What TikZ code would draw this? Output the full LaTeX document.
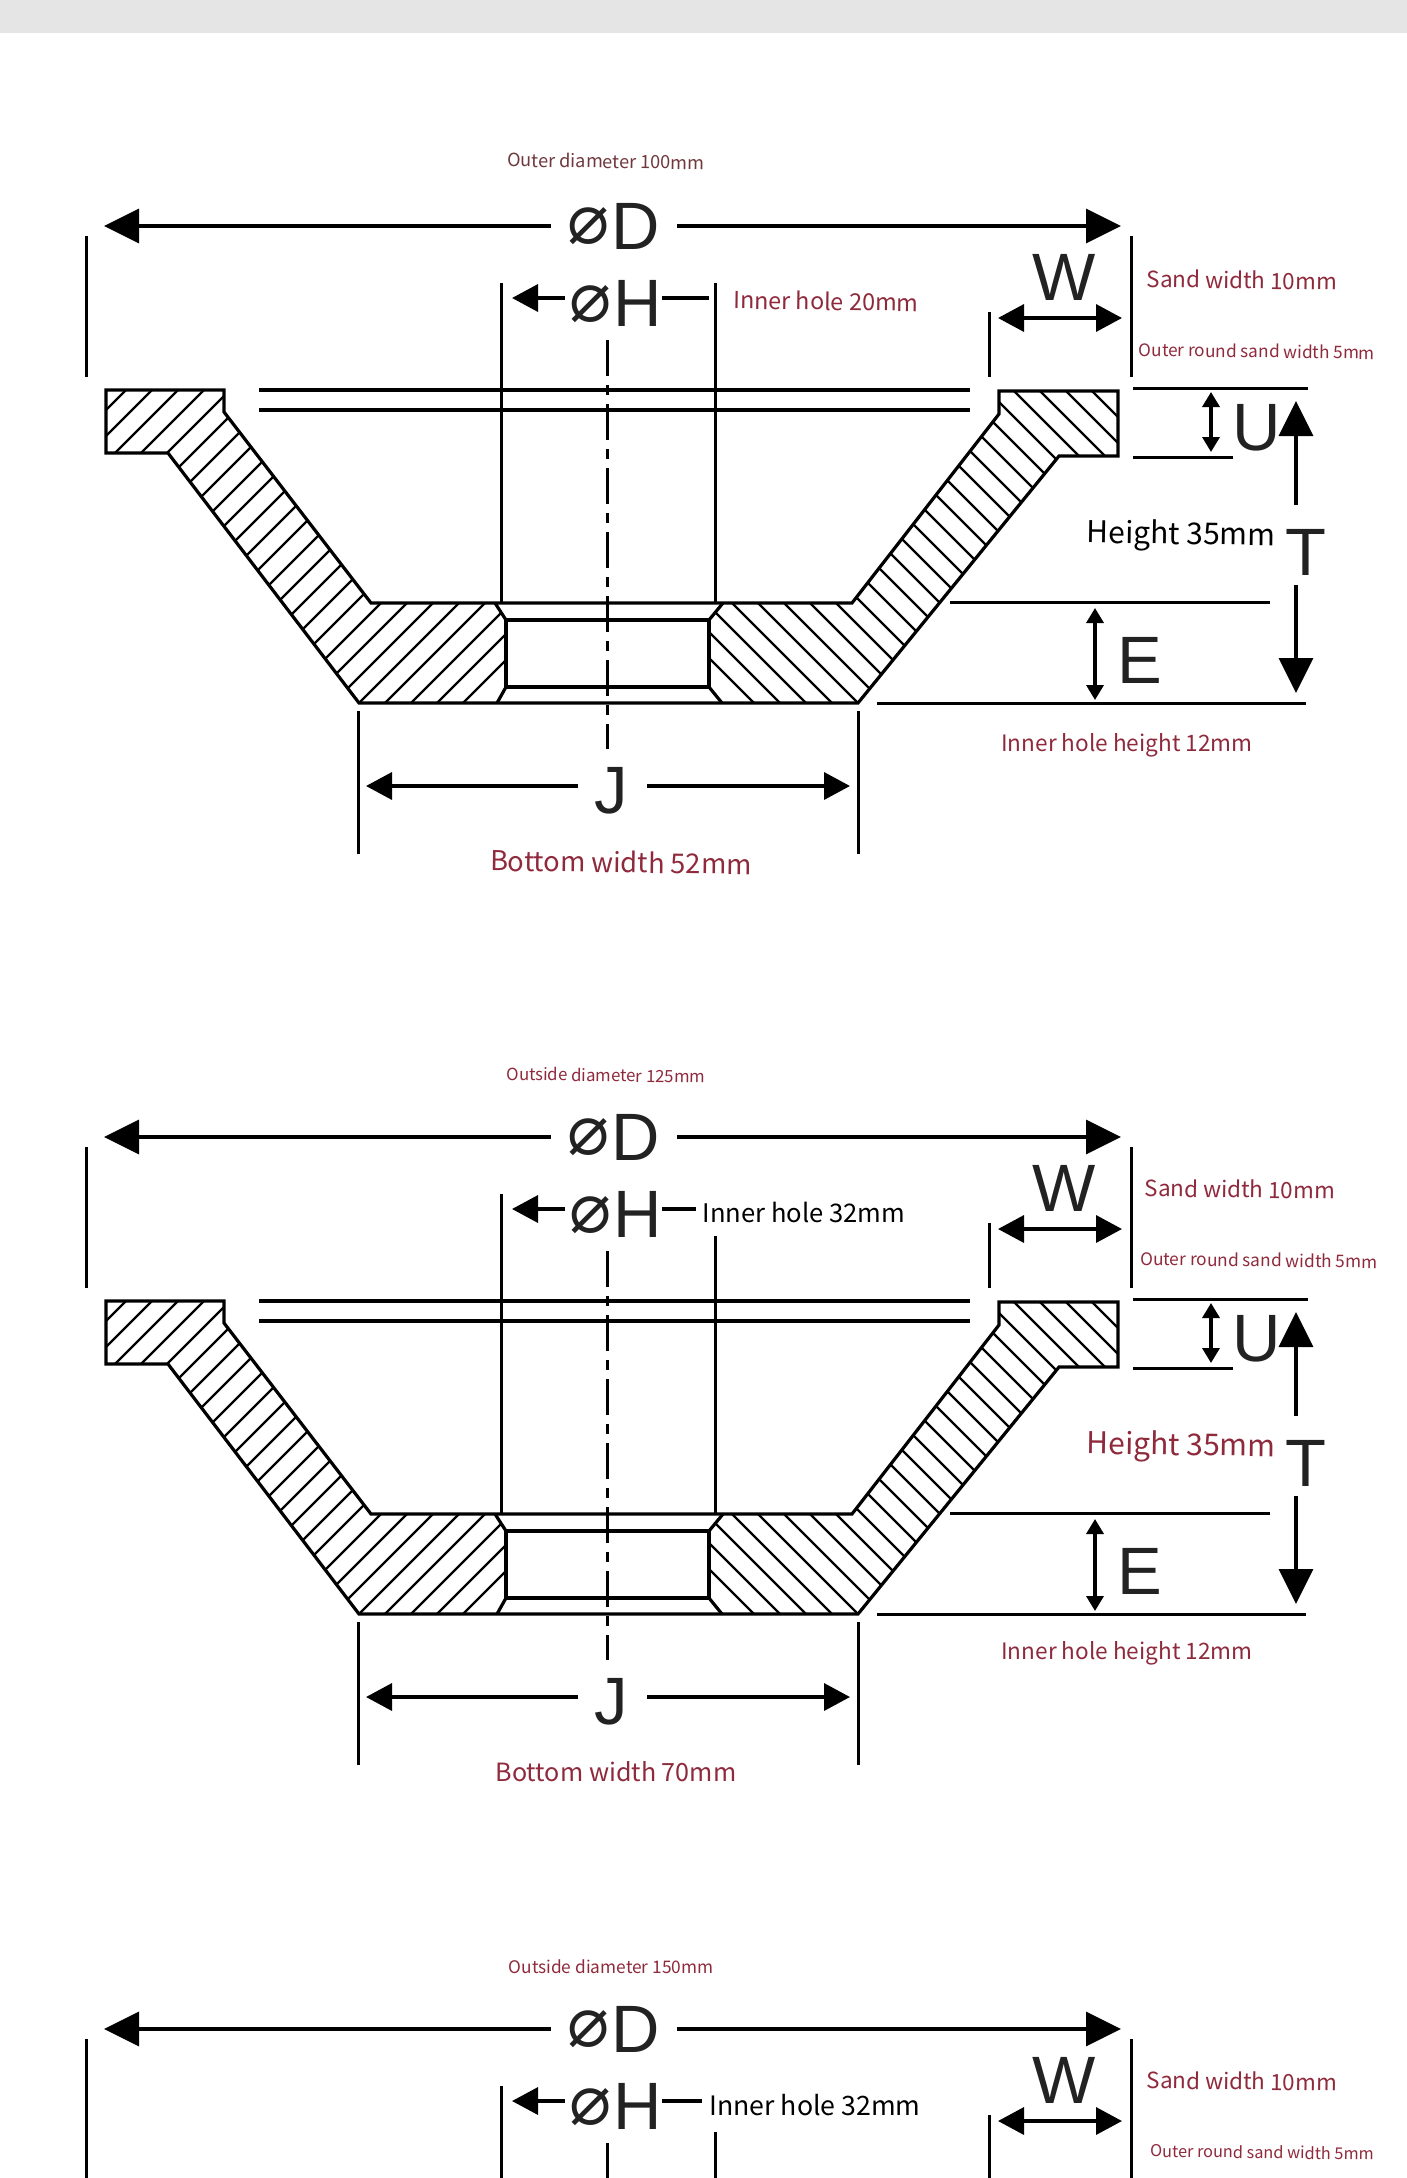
\documentclass[tikz,border=0pt]{standalone}
\usepackage{fontspec}
\usetikzlibrary{arrows.meta}
\setmainfont{Liberation Sans}
\newfontfamily\notefont{Noto Sans CJK SC}
\newfontfamily\symfont{DejaVu Sans}
\definecolor{notered}{HTML}{8E2A3C}
\definecolor{notebrown}{HTML}{70383C}
\definecolor{inkdark}{HTML}{222222}
\tikzset{
  outline/.style={line width=3.2pt,line join=miter},
  extline/.style={line width=3pt},
  hatchline/.style={line width=2.2pt},
  centerline/.style={line width=3pt,dash pattern=on 36pt off 9pt on 10pt off 9pt},
  letter/.style={inner sep=0pt,text=inkdark,font=\fontsize{67}{70}\selectfont},
  phisign/.style={inner sep=0pt,text=inkdark,font=\symfont\fontsize{70}{70}\selectfont},
  bigarrow/.style={line width=3.5pt,-{Triangle[length=35pt,width=34pt]}},
  midarrow/.style={line width=3.5pt,-{Triangle[length=26pt,width=27pt]}},
  bothsmall/.style={line width=3.5pt,{Triangle[length=15pt,width=17pt]}-{Triangle[length=15pt,width=17pt]}},
  bothmid/.style={line width=3.5pt,{Triangle[length=26pt,width=27pt]}-{Triangle[length=26pt,width=27pt]}},
  note/.style={inner sep=0pt,text=notered,rotate=-0.8},
}
\newcommand*{\notesize}[1]{\notefont\fontsize{#1}{#1}\selectfont}
\begin{document}
\begin{tikzpicture}[x=1pt,y=-1pt]
  \useasboundingbox (0,0) rectangle (1407,2178);
  \clip (0,0) rectangle (1407,2178);
  \fill[black!10] (0,0) rectangle (1407,33);

  \foreach \py/\hy/\hx in {0/283/709,911/325/696,1803/329/702}
  {
  \begin{scope}[shift={(0,\py)}]
    % witness lines
    \draw[extline] (86,236) -- (86,377);
    \draw[extline] (1131,236) -- (1131,377);
    \draw[extline] (989,312) -- (989,377);
    \draw[extline] (501,283) -- (501,603);
    \draw[extline] (715,\hy) -- (715,603);
    \draw[centerline] (607,340) -- (607,749);

    % letters
    \node[phisign,minimum width=76pt] (phiD\py) at (589,226) {⌀};
    \node[letter,minimum width=82pt] (letD\py) at (636,226) {D};
    \node[phisign,minimum width=52pt] (phiH\py) at (591,304) {⌀};
    \node[letter,minimum width=40pt] (letH\py) at (638,303) {H};
    \node[letter] (letW\py) at (1064,277) {W};

    % dimension arrows
    \draw[bigarrow] (phiD\py.west) -- (104,226);
    \draw[bigarrow] (letD\py.east) -- (1121,226);
    \draw[midarrow] (phiH\py.west) ++(0,-6) -- (512,298);
    \draw[line width=3.5pt] (letH\py.east) ++(0,-5) -- (\hx,298);
    \draw[bothmid] (998,318) -- (1122,318);

    \ifnum\py<1803
    % hatching left
    \begin{scope}
      \clip (106,390) -- (224,390) -- (224,412) -- (371,603) -- (495,603) -- (506,620)
        -- (506,687) -- (497,703) -- (359,703) -- (168,453) -- (106,453) -- cycle;
      \foreach \c in {-4,...,22}
        \draw[hatchline] ({1062-\c*26-720},720) -- ({1062-\c*26-300},300);
    \end{scope}
    % hatching right
    \begin{scope}
      \clip (999,391) -- (1118,391) -- (1118,456) -- (1059,456) -- (858,703) -- (722,703)
        -- (709,687) -- (709,620) -- (723,603) -- (852,603) -- (999,414) -- cycle;
      \foreach \c in {-4,...,22}
        \draw[hatchline] ({155+\c*26+300},300) -- ({155+\c*26+720},720);
    \end{scope}

    % wheel section
    \draw[outline] (106,390) -- (224,390) -- (224,412) -- (371,603) -- (852,603) -- (999,414)
      -- (999,391) -- (1118,391) -- (1118,456) -- (1059,456) -- (858,703) -- (359,703)
      -- (168,453) -- (106,453) -- cycle;
    \draw[outline] (506,620) rectangle (709,687);
    \draw[outline] (495,603) -- (506,620) (506,687) -- (497,703);
    \draw[outline] (723,603) -- (709,620) (709,687) -- (722,703);
    \draw[outline] (259,390) -- (970,390) (259,410) -- (970,410);

    % lower witness lines
    \draw[extline] (1133,388) -- (1308,388);
    \draw[extline] (1133,457) -- (1233,457);
    \draw[extline] (950,602) -- (1270,602);
    \draw[extline] (877,703) -- (1306,703);
    \draw[extline] (358,711) -- (358,854);
    \draw[extline] (858,711) -- (858,854);

    % lower letters
    \node[letter] (letU\py) at (1257,428) {U};
    \node[letter] (letT\py) at (1306,552) {T};
    \node[letter] (letE\py) at (1140,660) {E};
    \node[letter] (letJ\py) at (611,791) {J};

    % lower arrows
    \draw[bothsmall] (1211,392) -- (1211,452);
    \draw[bothsmall] (1095,608) -- (1095,700);
    \draw[bigarrow] (1296,505) -- (1296,401);
    \draw[bigarrow] (1296,585) -- (1296,693);
    \draw[midarrow] (578,786) -- (366,786);
    \draw[midarrow] (647,786) -- (850,786);
    \fi
  \end{scope}
  }

  % first wheel
  \node[note,text=notebrown,font=\notesize{18.2}] (outerA) at (606,161) {Outer diameter 100mm};
  \node[note,font=\notesize{23.4}] (holeA) at (826,301) {Inner hole 20mm};
  \node[note,font=\notesize{22.4}] (sandA) at (1242,280) {Sand width 10mm};
  \node[note,font=\notesize{17.2}] (roundA) at (1257,351) {Outer round sand width 5mm};
  \node[note,text=black,font=\notesize{30}] (heightA) at (1181,536) {Height 35mm};
  \node[note,rotate=0.8,font=\notesize{22.6}] (lowA) at (1127,745) {Inner hole height 12mm};
  \node[note,font=\notesize{27.3}] (bottomA) at (621,862) {Bottom width 52mm};

  % second wheel
  \node[note,font=\notesize{16.8}] (outerB) at (606,1075) {Outside diameter 125mm};
  \node[note,rotate=0.8,text=black,font=\notesize{25.6}] (holeB) at (804,1212) {Inner hole 32mm};
  \node[note,font=\notesize{22.4}] (sandB) at (1240,1189) {Sand width 10mm};
  \node[note,font=\notesize{17.3}] (roundB) at (1259,1260) {Outer round sand width 5mm};
  \node[note,font=\notesize{30}] (heightB) at (1181,1447) {Height 35mm};
  \node[note,rotate=0.8,font=\notesize{22.6}] (lowB) at (1127,1653) {Inner hole height 12mm};
  \node[note,rotate=0.8,font=\notesize{25.1}] (bottomB) at (616,1772) {Bottom width 70mm};

  % third wheel
  \node[note,rotate=0.8,font=\notesize{17.3}] (outerC) at (611,1967) {Outside diameter 150mm};
  \node[note,rotate=0.8,text=black,font=\notesize{26.7}] (holeC) at (815,2105) {Inner hole 32mm};
  \node[note,font=\notesize{22.4}] (sandC) at (1242,2081) {Sand width 10mm};
  \node[note,font=\notesize{16.3}] (roundC) at (1262,2152) {Outer round sand width 5mm};
\end{tikzpicture}
\end{document}
